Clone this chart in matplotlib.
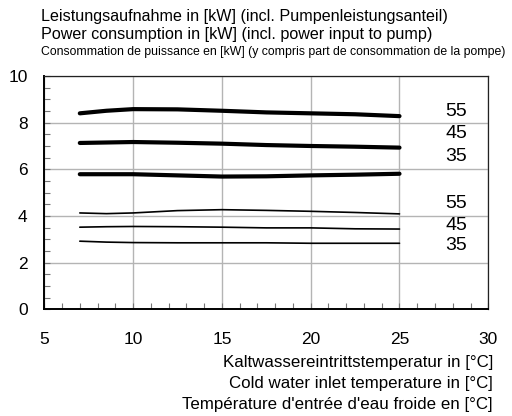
import matplotlib
matplotlib.use("Agg")
import matplotlib.pyplot as plt
from matplotlib.ticker import MultipleLocator

plt.rcParams['font.family'] = ['Liberation Sans', 'DejaVu Sans']

# Cold water inlet temperature [°C]
temp = [7, 8.5, 10, 12.5, 15, 17.5, 20, 22.5, 25]

# Power consumption [kW], upper group (thick curves)
thick_55 = [8.40, 8.51, 8.58, 8.57, 8.51, 8.44, 8.40, 8.36, 8.28]
thick_45 = [7.13, 7.15, 7.17, 7.14, 7.10, 7.04, 7.00, 6.97, 6.93]
thick_35 = [5.79, 5.79, 5.79, 5.74, 5.69, 5.70, 5.74, 5.77, 5.81]

# Power consumption [kW], lower group (thin curves)
thin_55 = [4.13, 4.10, 4.13, 4.23, 4.27, 4.24, 4.20, 4.15, 4.09]
thin_45 = [3.52, 3.54, 3.55, 3.54, 3.52, 3.49, 3.49, 3.45, 3.44]
thin_35 = [2.92, 2.88, 2.86, 2.85, 2.85, 2.85, 2.83, 2.83, 2.83]

curve_labels = ["55", "45", "35", "55", "45", "35"]
label_y = [8.46, 7.52, 6.54, 4.55, 3.58, 2.73]
label_x = 28.2

x_ticks = [5, 10, 15, 20, 25, 30]
y_ticks = [0, 2, 4, 6, 8, 10]

fig = plt.figure(figsize=(5.12, 4.16), dpi=100)
ax = fig.add_axes([0.0865, 0.2565, 0.9537 - 0.0865, 0.8173 - 0.2565])

ax.set_xlim(5, 30)
ax.set_ylim(0, 10)
ax.set_xticks(x_ticks)
ax.set_yticks(y_ticks)
ax.xaxis.set_minor_locator(MultipleLocator(1))
ax.yaxis.set_minor_locator(MultipleLocator(0.5))
ax.grid(True, which='major', color='#b4b4b4', linewidth=1.0)
ax.set_axisbelow(True)

ax.tick_params(which='both', direction='in', color='#777777', top=False, right=False)
ax.tick_params(which='major', length=4, width=0.8, labelsize=12.5)
ax.tick_params(which='minor', length=4, width=0.8)
ax.tick_params(axis='y', which='major', pad=12)
ax.tick_params(axis='x', which='major', pad=16)

for side in ['left', 'bottom']:
    ax.spines[side].set_color('black')
    ax.spines[side].set_linewidth(1.4)
for side in ['top', 'right']:
    ax.spines[side].set_color('#222222')
    ax.spines[side].set_linewidth(0.9)

for series in (thick_55, thick_45, thick_35):
    ax.plot(temp, series, color='black', linewidth=3.0,
            solid_capstyle='round', solid_joinstyle='round')
for series in (thin_55, thin_45, thin_35):
    ax.plot(temp, series, color='black', linewidth=1.2,
            solid_capstyle='round', solid_joinstyle='round')

for txt, yv in zip(curve_labels, label_y):
    ax.text(label_x, yv, txt, ha='center', va='center', fontsize=14)

# Heading lines above the plot
fig.text(41 / 512, 1 - 21 / 416, "Leistungsaufnahme in [kW] (incl. Pumpenleistungsanteil)",
         ha='left', va='baseline', fontsize=11.6)
fig.text(41 / 512, 1 - 38.5 / 416, "Power consumption in [kW] (incl. power input to pump)",
         ha='left', va='baseline', fontsize=11.6)
fig.text(41 / 512, 1 - 55.5 / 416,
         "Consommation de puissance en [kW] (y compris part de consommation de la pompe)",
         ha='left', va='baseline', fontsize=8.8)

# Axis caption lines below the plot
fig.text(493 / 512, 1 - 367.5 / 416, "Kaltwassereintrittstemperatur in [°C]",
         ha='right', va='baseline', fontsize=12.2)
fig.text(493 / 512, 1 - 388 / 416, "Cold water inlet temperature in [°C]",
         ha='right', va='baseline', fontsize=12.2)
fig.text(493 / 512, 1 - 408.5 / 416, "Température d'entrée d'eau froide en [°C]",
         ha='right', va='baseline', fontsize=12.2)

fig.savefig("out.png", dpi=100)
